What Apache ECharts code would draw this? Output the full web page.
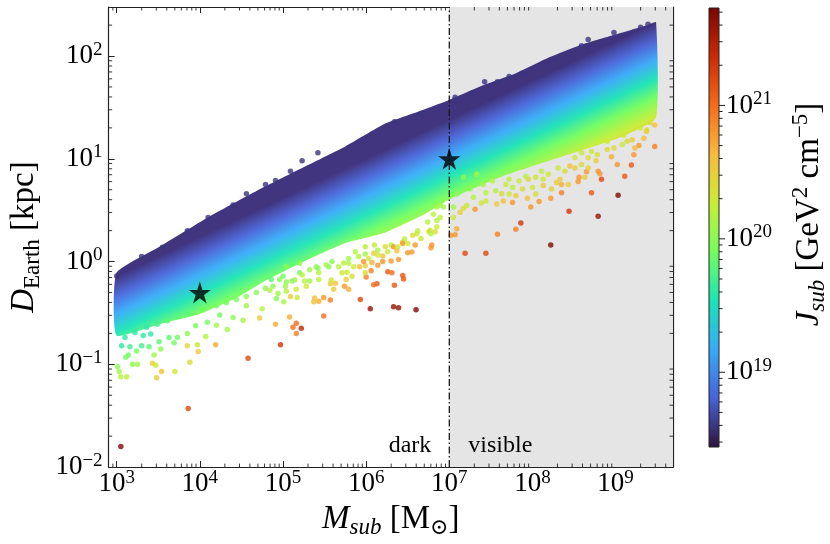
<!DOCTYPE html>
<html>
<head>
<meta charset="utf-8">
<title>Subhalo J-factors</title>
<script src="https://cdn.jsdelivr.net/npm/echarts@6/dist/echarts.min.js"></script>
<style>
  html, body { margin: 0; padding: 0; background: #fff; }
  #chart { width: 830px; height: 544px; }
</style>
</head>
<body>
<div id="chart"></div>
<script>
// ---- data ----
// frame of the plot: subhalo mass [M_sun] and distance to Earth [kpc]
var massRange = [800, 4.9e9];
var distRange = [0.01, 300];
// colour scale, log10 of J_sub [GeV^2 cm^-5]
var logJRange = [18.44, 21.73];
var cbarTicks = [1e19, 1e20, 1e21];
// dark / visible split
var massCut = 1e7;
// the two marked subhaloes
var starM = [1e4, 1e7];
var starD = [0.5, 10];

// dense part of the cloud: upper and lower edge, log10 M and log10 D
var bandTopLogM = [2.997, 3.505, 4.095, 4.686, 5.278, 5.75, 6.223, 6.613, 6.99, 7.405, 7.795, 8.197, 8.587, 8.977, 9.379, 9.486];
var bandTopLogD = [-0.11, 0.14, 0.43, 0.69, 0.93, 1.12, 1.34, 1.455, 1.57, 1.715, 1.83, 1.985, 2.11, 2.205, 2.30, 2.33];
var bandLowLogM = [2.997, 3.505, 4.0, 4.45, 4.805, 5.278, 5.75, 6.223, 6.70, 6.99, 7.64, 8.35, 9.06, 9.486];
var bandLowLogD = [-0.72, -0.61, -0.51, -0.35, -0.18, 0.01, 0.18, 0.28, 0.46, 0.60, 0.83, 1.02, 1.21, 1.40];

// two lines of equal colour inside the band (J = 1e19 and J = 1e20)
var isoJM = [1e3, 3e9];
var isoJ19D = [0.38, 110];
var isoJ20D = [0.12, 35];

// single subhaloes around the band: [log10 M, log10 D, log10 J]
var edgeDots = [
  [3.00,-0.14,18.6],[3.30,0.05,18.6],[3.55,0.14,18.6],[3.85,0.30,18.6],[4.10,0.43,18.6],
  [4.40,0.55,18.6],[4.56,0.66,18.6],[4.79,0.75,18.6],[4.91,0.79,18.6],[5.09,0.88,18.6],
  [5.23,0.98,18.6],[5.42,1.06,18.6],[6.34,1.36,18.6],[6.66,1.44,18.6],[7.07,1.60,18.6],
  [7.27,1.635,18.6],[7.425,1.75,18.6],[7.58,1.75,18.6],[7.72,1.80,18.6],[7.88,1.83,18.6],
  [8.27,1.97,18.6],[8.59,2.10,18.6],[8.67,2.16,18.6],[8.98,2.23,18.6],[9.30,2.28,18.6],[9.39,2.31,18.6]
];
var lowEdgeDots = [
  [3.10,-0.74,19.6],[3.22,-0.69,19.6],[3.36,-0.64,19.6],[3.49,-0.61,19.7],[3.61,-0.577,19.8],
  [3.73,-0.53,19.8],[3.86,-0.50,19.8],[4.04,-0.465,19.9],[4.20,-0.43,19.9],[4.32,-0.40,19.9],
  [4.44,-0.37,19.9],[4.56,-0.34,20.0],[4.68,-0.30,20.0],[4.79,-0.26,20.0],[5.03,-0.24,20.1],
  [5.11,-0.19,20.0],[5.00,-0.144,19.9],[5.20,-0.11,19.9],[5.40,-0.05,20.0],[5.59,0.0,20.0],
  [5.79,0.03,20.1],[5.99,0.074,20.1],[6.14,0.11,20.1],[6.30,0.16,20.2],[6.46,0.22,20.2],
  [6.62,0.30,20.2],[6.74,0.385,20.2],[6.81,0.46,20.2],[6.89,0.545,20.1],[7.09,0.657,20.0],
  [7.25,0.705,20.0],[7.405,0.75,20.1],[7.72,0.80,20.2],[7.92,0.83,20.2],[8.11,0.88,20.2],
  [8.31,0.91,20.3],[8.51,1.01,20.3],[8.71,1.07,20.3],[8.90,1.17,20.3],[9.10,1.23,20.3],
  [9.30,1.30,20.3],[9.415,1.35,20.4]
];
var leftDots = [
  [3.05,-1.80,21.7],[3.86,-1.43,21.2],[4.58,-0.94,21.2],[4.97,-0.81,21.3],[5.22,-0.65,21.4],
  [5.16,-0.60,21.0],[5.12,-0.64,21.0],[5.16,-0.70,20.9],[5.08,-0.54,20.7],[4.91,-0.61,20.7],
  [5.09,-0.34,20.5],[4.72,-0.55,20.5],[4.19,-0.81,20.7],[3.98,-0.875,20.5],[3.88,-0.98,20.4],
  [3.85,-0.82,20.4],[3.97,-0.81,20.3],[3.70,-1.07,20.3],[3.54,-1.07,20.6],[3.48,-1.13,20.5],
  [3.43,-0.99,20.5],[3.47,-1.01,20.3],[3.25,-1.00,20.1],[3.19,-1.00,20.0],[3.12,-1.12,20.2],
  [3.05,-1.12,20.2],[3.03,-1.07,20.1],[3.01,-1.02,20.0],[3.14,-0.91,19.9],[3.11,-0.93,19.9],
  [3.24,-0.87,19.9],[3.45,-0.91,20.1],[3.53,-0.85,20.0],[3.69,-0.79,19.9],[3.73,-0.74,19.9],
  [3.85,-0.70,20.0],[4.07,-0.73,20.2],[4.33,-0.66,20.1],[4.20,-0.62,20.1],[4.40,-0.545,20.0],
  [4.52,-0.57,20.1],[4.56,-0.43,20.1],[4.75,-0.46,20.2],[4.92,-0.36,20.0],[5.01,-0.39,20.1],
  [5.17,-0.35,20.3],[3.30,-0.82,19.7],[3.39,-0.83,19.8],[3.16,-0.83,19.7],[3.06,-0.82,19.6],
  [3.51,-0.78,19.8],[3.63,-0.74,19.8],[3.32,-0.72,19.6],[3.41,-0.705,19.6],[4.09,-0.59,19.9],
  [3.95,-0.625,19.9],[4.24,-0.52,19.9]
];
var midDots = [
  [5.49,-0.53,21.0],[6.05,-0.46,21.6],[6.33,-0.44,21.6],[6.39,-0.45,21.6],[6.60,-0.47,21.7],
  [5.93,-0.37,21.2],[5.57,-0.375,20.9],[5.49,-0.35,20.8],[5.43,-0.385,20.7],[5.37,-0.39,20.6],
  [5.38,-0.355,20.6],[6.13,-0.215,21.1],[6.09,-0.225,21.0],[6.34,-0.23,21.1],[6.45,-0.17,21.1],
  [6.44,-0.135,21.1],[6.26,-0.10,21.1],[6.31,-0.11,21.0],[6.06,-0.09,20.9],[6.00,-0.15,20.9],
  [5.74,-0.24,20.8],[5.79,-0.27,20.7],[5.61,-0.27,20.5],[5.57,-0.215,20.5],[5.76,-0.175,20.5],
  [5.63,-0.21,20.6],[5.92,-0.05,20.6],[5.99,-0.04,20.5],[5.97,0.0,20.8],[6.07,-0.01,20.7],
  [6.14,-0.035,20.8],[6.20,0.0,20.8],[6.30,0.005,20.8],[6.39,0.02,20.8],[6.37,0.105,20.6],
  [6.50,0.087,20.8],[6.55,0.093,20.8],[6.59,0.16,20.8],[6.78,0.135,20.8],[6.79,0.16,20.8],
  [6.56,0.255,20.4],[6.33,0.145,20.8],[6.20,0.055,20.6],[6.09,0.08,20.5],[5.85,-0.05,20.3],
  [5.77,-0.105,20.3],[5.58,-0.18,20.3],[5.43,-0.175,20.2],[5.32,-0.19,20.1],[5.23,-0.13,20.2],
  [5.26,-0.19,20.2],[5.14,-0.18,20.1],[5.04,-0.20,20.0],[4.96,-0.175,20.0],[4.88,-0.24,20.0],
  [4.86,-0.175,19.8],[4.94,-0.31,20.1],[4.84,-0.28,20.2],[6.85,0.34,20.3],[6.83,0.29,20.4],
  [6.77,0.305,20.3],[6.61,0.27,20.3],[6.44,0.19,20.4],[6.23,0.145,20.4],[6.10,0.16,20.3],
  [5.99,0.145,20.2],[5.87,0.096,20.2],[5.73,-0.015,20.2],[5.55,-0.05,20.0],[5.42,-0.065,20.0],
  [6.44,0.175,20.8],[6.755,0.29,20.4],[6.89,0.43,20.2],[6.85,0.53,20.1],[6.91,0.59,20.0],
  [5.04,-0.05,20.0],[5.20,-0.016,20.0],[5.32,-0.08,20.1],[5.43,-0.11,20.2],[5.52,-0.03,20.1],
  [5.67,-0.05,20.2],[5.79,-0.016,20.2],[5.91,0.05,20.2],[6.03,0.03,20.3],[6.14,0.064,20.3],
  [6.26,0.096,20.3],[6.38,0.144,20.3],[6.50,0.176,20.3],[6.66,0.224,20.3],[6.78,0.27,20.2],
  [6.85,0.40,20.2],[6.93,0.53,20.1],[5.99,-0.11,20.4],[5.83,-0.144,20.4],[5.71,-0.11,20.3],
  [5.28,-0.24,20.3],[5.16,-0.27,20.3],[5.04,-0.29,20.2]
];
var rightDots = [
  [7.19,0.08,21.2],[7.44,0.08,21.2],[7.58,0.265,20.9],[7.80,0.315,20.9],[7.86,0.375,21.3],
  [8.22,0.16,21.7],[8.44,0.49,21.3],[8.79,0.44,21.6],[9.03,0.645,21.7],[8.71,0.67,21.1],
  [8.83,0.80,21.2],[9.11,0.83,21.1],[9.19,0.94,21.1],[9.47,1.12,20.9],[9.28,1.13,20.8],
  [9.23,1.105,20.6],[9.22,1.04,20.8],[9.02,0.945,20.8],[8.95,1.02,20.7],[8.79,0.88,20.8],
  [8.81,0.855,20.8],[8.65,0.875,20.8],[8.56,0.82,20.8],[8.55,0.78,20.8],[8.35,0.67,20.9],
  [8.35,0.75,20.7],[8.33,0.80,20.5],[8.22,0.615,20.8],[8.08,0.585,20.8],[7.98,0.53,20.8],
  [7.94,0.615,20.6],[7.76,0.575,20.8],[7.80,0.64,20.5],[7.65,0.59,20.6],[7.57,0.56,20.5],
  [7.31,0.51,20.8],[7.385,0.57,20.3],[7.21,0.545,20.3],[7.17,0.52,20.4],[7.13,0.48,20.5],
  [7.09,0.32,20.7],[7.07,0.26,20.8],[7.02,0.255,20.8],[7.05,0.43,20.3],[7.05,0.53,20.1],
  [7.44,0.67,20.2],[7.56,0.69,20.2],[7.63,0.66,20.4],[7.76,0.72,20.2],[7.88,0.705,20.4],
  [8.00,0.72,20.3],[8.13,0.74,20.5],[7.95,0.80,20.4],[8.13,0.80,20.3],[8.29,0.77,20.5],
  [8.45,0.93,20.6],[8.51,0.91,20.5],[8.67,0.91,20.5],[8.765,0.98,20.5],[8.59,1.06,20.3],
  [8.67,1.01,20.4],[8.90,1.09,20.4],[9.08,1.14,20.3],[9.34,1.20,20.6],[9.20,1.185,20.5],
  [9.47,1.33,20.6],[9.375,1.28,20.4],
  [7.17,0.82,20.0],[7.33,0.85,20.1],[7.52,0.785,20.2],[7.68,0.75,20.3],[7.84,0.785,20.3],
  [8.04,0.82,20.3],[8.19,0.85,20.3],[8.39,0.88,20.4],[8.59,0.945,20.4],[8.78,1.04,20.4],
  [8.98,1.105,20.4],[9.14,1.17,20.4],[9.37,1.265,20.5],[7.29,0.625,20.2],[7.44,0.59,20.3],
  [7.72,0.657,20.3],[8.04,0.657,20.4],[8.23,0.705,20.5],[8.43,0.75,20.5],[8.63,0.82,20.5]
];

// ---- styles ----
var turbo = ['#30123b', '#4662d7', '#36aaf9', '#1ae4b6', '#72fe5e',
             '#c8ef34', '#faba39', '#f66b19', '#cb2a04', '#7a0403'];
// the dense band reads a touch lighter at its navy end (white gaps between dots)
var bandNavy = '#382a78';
var serif = '"Liberation Serif", "DejaVu Serif", "Times New Roman", serif';
var ink = '#000';

function turboStops(first) {
  return turbo.map(function (c, i) {
    return { offset: i / (turbo.length - 1), color: (i === 0 && first) ? first : c };
  });
}

// 10^n labels, blank for the frame ends
function powLabel(v) {
  var lg = Math.log10(v), e = Math.round(lg);
  if (Math.abs(lg - e) > 1e-6) return '';
  return '{b|10}{sup|' + (e < 0 ? '\u2212' + (-e) : e) + '}';
}
var tickRich = {
  b: { fontFamily: serif, fontSize: 27, lineHeight: 32, color: ink },
  sup: { fontFamily: serif, fontSize: 19, lineHeight: 19, verticalAlign: 'top', color: ink }
};
var titleRich = {
  mi: { fontFamily: serif, fontStyle: 'italic', fontSize: 33, lineHeight: 40, color: ink },
  r: { fontFamily: serif, fontSize: 33, lineHeight: 40, color: ink },
  si: { fontFamily: serif, fontStyle: 'italic', fontSize: 23, lineHeight: 23, verticalAlign: 'bottom', color: ink },
  sr: { fontFamily: serif, fontSize: 23, lineHeight: 23, verticalAlign: 'bottom', color: ink },
  sup: { fontFamily: serif, fontSize: 23, lineHeight: 23, verticalAlign: 'top', color: ink },
  od: { fontFamily: '"DejaVu Serif", serif', fontSize: 22, lineHeight: 24, verticalAlign: 'bottom', color: ink }
};
var noteStyle = { fontFamily: serif, fontSize: 24, color: ink, opacity: 1, textBorderWidth: 0 };

// log minor ticks 2..9 x 10^k inside a range (axis decoration)
function minorTicks(lo, hi) {
  var out = [];
  for (var e = Math.floor(Math.log10(lo)); e <= Math.ceil(Math.log10(hi)); e++) {
    for (var k = 2; k <= 9; k++) {
      var v = k * Math.pow(10, e);
      if (v > lo * 1.0001 && v < hi / 1.0001) out.push(v);
    }
  }
  return out;
}

function toPoints(list) {
  return list.map(function (p) { return [Math.pow(10, p[0]), Math.pow(10, p[1]), p[2]]; });
}

var dots = toPoints(edgeDots.concat(lowEdgeDots, leftDots, midDots, rightDots));
var jMinVal = Math.pow(10, logJRange[0]);
var jMaxVal = Math.pow(10, logJRange[1]);

function logAxis(extra) {
  var a = {
    type: 'log', logBase: 10,
    axisLine: { show: true, onZero: false, lineStyle: { color: '#222', width: 1.2 } },
    axisTick: { show: true, inside: true, length: 6, lineStyle: { color: '#222', width: 1 } },
    splitLine: { show: false },
    minorTick: { show: false }
  };
  for (var k in extra) a[k] = extra[k];
  return a;
}

function note(text, pos, dist) {
  var l = { show: true, position: pos, distance: dist, formatter: text };
  for (var k in noteStyle) l[k] = noteStyle[k];
  return { value: [massCut, 0.0162], label: l };
}

var chart = echarts.init(document.getElementById('chart'), null, { renderer: 'canvas' });

var option = {
  animation: false,
  backgroundColor: '#fff',
  grid: [
    { left: 99, top: 7, width: 574, height: 466 },
    { left: 709, top: 8, width: 24, height: 439 }
  ],
  xAxis: [
    logAxis({
      gridIndex: 0, position: 'bottom', min: massRange[0], max: massRange[1],
      axisLabel: { formatter: powLabel, rich: tickRich, margin: 1 },
      name: '{mi|M}{si|sub}{r| [M}{od|\u2299}{r|]}',
      nameLocation: 'middle', nameGap: 31,
      nameTextStyle: { rich: titleRich }
    }),
    logAxis({
      gridIndex: 0, position: 'top', min: massRange[0], max: massRange[1],
      axisLabel: { show: false }
    }),
    { type: 'value', gridIndex: 1, min: 0, max: 1, show: false }
  ],
  yAxis: [
    logAxis({
      gridIndex: 0, position: 'left', min: distRange[0], max: distRange[1],
      axisLabel: { formatter: powLabel, rich: tickRich, margin: 6 },
      name: '{mi|D}{sr|Earth}{r| [kpc]}',
      nameLocation: 'middle', nameGap: 64, nameRotate: 90,
      nameTextStyle: { rich: titleRich }
    }),
    logAxis({
      gridIndex: 0, position: 'right', min: distRange[0], max: distRange[1],
      axisLabel: { show: false }
    }),
    {
      type: 'log', logBase: 10, gridIndex: 1, position: 'right', min: jMinVal, max: jMaxVal,
      axisLine: { show: false },
      axisTick: { show: false },
      splitLine: { show: false },
      axisLabel: { formatter: powLabel, rich: tickRich, margin: 7 },
      name: '{mi|J}{si|sub}{r| [GeV}{sup|2}{r| cm}{sup|\u22125}{r|]}',
      nameLocation: 'middle', nameGap: 70, nameRotate: 90,
      nameTextStyle: { rich: titleRich, padding: [0, 0, 0, 26] }
    }
  ],
  visualMap: {
    type: 'continuous', show: false, seriesIndex: 2, dimension: 2,
    min: logJRange[0], max: logJRange[1],
    inRange: { color: turbo }
  },
  series: [
    // grey "visible" region
    {
      type: 'line', xAxisIndex: 0, yAxisIndex: 0, z: 1, silent: true, data: [],
      markArea: {
        silent: true,
        itemStyle: { color: '#e5e5e5' },
        data: [[{ xAxis: massCut }, { xAxis: massRange[1] }]]
      }
    },
    // dense band, coloured along the iso-J direction
    {
      type: 'custom', xAxisIndex: 0, yAxisIndex: 0, z: 2, silent: true,
      data: [[isoJM[0], isoJ20D[0]]],
      renderItem: function (params, api) {
        var pts = [], i;
        for (i = 0; i < bandTopLogM.length; i++) {
          pts.push(api.coord([Math.pow(10, bandTopLogM[i]), Math.pow(10, bandTopLogD[i])]));
        }
        for (i = bandLowLogM.length - 1; i >= 0; i--) {
          pts.push(api.coord([Math.pow(10, bandLowLogM[i]), Math.pow(10, bandLowLogD[i])]));
        }
        var a = api.coord([isoJM[0], isoJ20D[0]]);
        var b = api.coord([isoJM[1], isoJ20D[1]]);
        var c = api.coord([isoJM[0], isoJ19D[0]]);
        var tx = b[0] - a[0], ty = b[1] - a[1], len = Math.sqrt(tx * tx + ty * ty);
        var nx = -ty / len, ny = tx / len;
        var d = (c[0] - a[0]) * nx + (c[1] - a[1]) * ny; // px per decade of J, towards lower J
        var s0 = (20 - logJRange[0]) * d, s1 = (20 - logJRange[1]) * d;
        var fill = new echarts.graphic.LinearGradient(
          a[0] + s0 * nx, a[1] + s0 * ny, a[0] + s1 * nx, a[1] + s1 * ny, turboStops(bandNavy), true);
        return { type: 'polygon', shape: { points: pts, smooth: 0.15 }, style: { fill: fill, opacity: 0.95 } };
      }
    },
    // single subhaloes
    {
      type: 'scatter', xAxisIndex: 0, yAxisIndex: 0, z: 3, silent: true,
      symbol: 'circle', symbolSize: 5.5,
      data: dots
    },
    // dark / visible divide
    {
      type: 'line', xAxisIndex: 0, yAxisIndex: 0, z: 5, silent: true,
      symbol: 'none',
      lineStyle: { color: '#1a1a1a', width: 1.3, type: [7, 2.5, 1.5, 2.5] },
      data: [[massCut, distRange[0]], [massCut, distRange[1]]]
    },
    // marked subhaloes
    {
      type: 'scatter', xAxisIndex: 0, yAxisIndex: 0, z: 6, silent: true,
      symbol: 'path://M50,0 L61.2,34.5 L97.6,34.5 L68.2,55.9 L79.4,90.5 L50,69.1 L20.6,90.5 L31.8,55.9 L2.4,34.5 L38.8,34.5 Z',
      symbolSize: 22,
      itemStyle: { color: '#000' },
      data: starM.map(function (m, i) { return [m, starD[i]]; })
    },
    // region labels
    {
      type: 'scatter', xAxisIndex: 0, yAxisIndex: 0, z: 6, silent: true,
      symbolSize: 0,
      itemStyle: { color: ink },
      data: [note('dark', 'left', 18), note('visible', 'right', 19)]
    },
    // minor ticks, bottom and top
    {
      type: 'custom', xAxisIndex: 0, yAxisIndex: 0, z: 10, silent: true,
      data: minorTicks(massRange[0], massRange[1]).map(function (v) { return [v, 1]; }),
      renderItem: function (params, api) {
        var x = api.coord([api.value(0), 1])[0], cs = params.coordSys;
        var st = { stroke: '#222', lineWidth: 0.9 };
        return { type: 'group', children: [
          { type: 'line', shape: { x1: x, y1: cs.y + cs.height, x2: x, y2: cs.y + cs.height - 3.5 }, style: st },
          { type: 'line', shape: { x1: x, y1: cs.y, x2: x, y2: cs.y + 3.5 }, style: st }
        ] };
      }
    },
    // minor ticks, left and right
    {
      type: 'custom', xAxisIndex: 0, yAxisIndex: 0, z: 10, silent: true,
      data: minorTicks(distRange[0], distRange[1]).map(function (v) { return [1e5, v]; }),
      renderItem: function (params, api) {
        var y = api.coord([1e5, api.value(1)])[1], cs = params.coordSys;
        var st = { stroke: '#222', lineWidth: 0.9 };
        return { type: 'group', children: [
          { type: 'line', shape: { x1: cs.x, y1: y, x2: cs.x + 3.5, y2: y }, style: st },
          { type: 'line', shape: { x1: cs.x + cs.width, y1: y, x2: cs.x + cs.width - 3.5, y2: y }, style: st }
        ] };
      }
    },
    // colour bar
    {
      type: 'custom', xAxisIndex: 2, yAxisIndex: 2, z: 2, silent: true,
      data: [[0, jMinVal]],
      renderItem: function (params, api) {
        var cs = params.coordSys;
        var top = api.coord([0, jMaxVal])[1], bot = api.coord([0, jMinVal])[1];
        return {
          type: 'rect',
          shape: { x: cs.x, y: top, width: cs.width, height: bot - top },
          style: {
            fill: new echarts.graphic.LinearGradient(0, 1, 0, 0, turboStops()),
            stroke: '#222', lineWidth: 1
          }
        };
      }
    },
    // colour bar ticks, major and minor
    {
      type: 'custom', xAxisIndex: 2, yAxisIndex: 2, z: 3, silent: true,
      data: minorTicks(jMinVal, jMaxVal).map(function (v) { return [1, v, 3.5]; })
        .concat(cbarTicks.map(function (v) { return [1, v, 6]; })),
      renderItem: function (params, api) {
        var p = api.coord([1, api.value(1)]);
        return {
          type: 'line',
          shape: { x1: p[0], y1: p[1], x2: p[0] + api.value(2), y2: p[1] },
          style: { stroke: '#222', lineWidth: 1 }
        };
      }
    }
  ]
};

chart.setOption(option);
</script>
</body>
</html>
